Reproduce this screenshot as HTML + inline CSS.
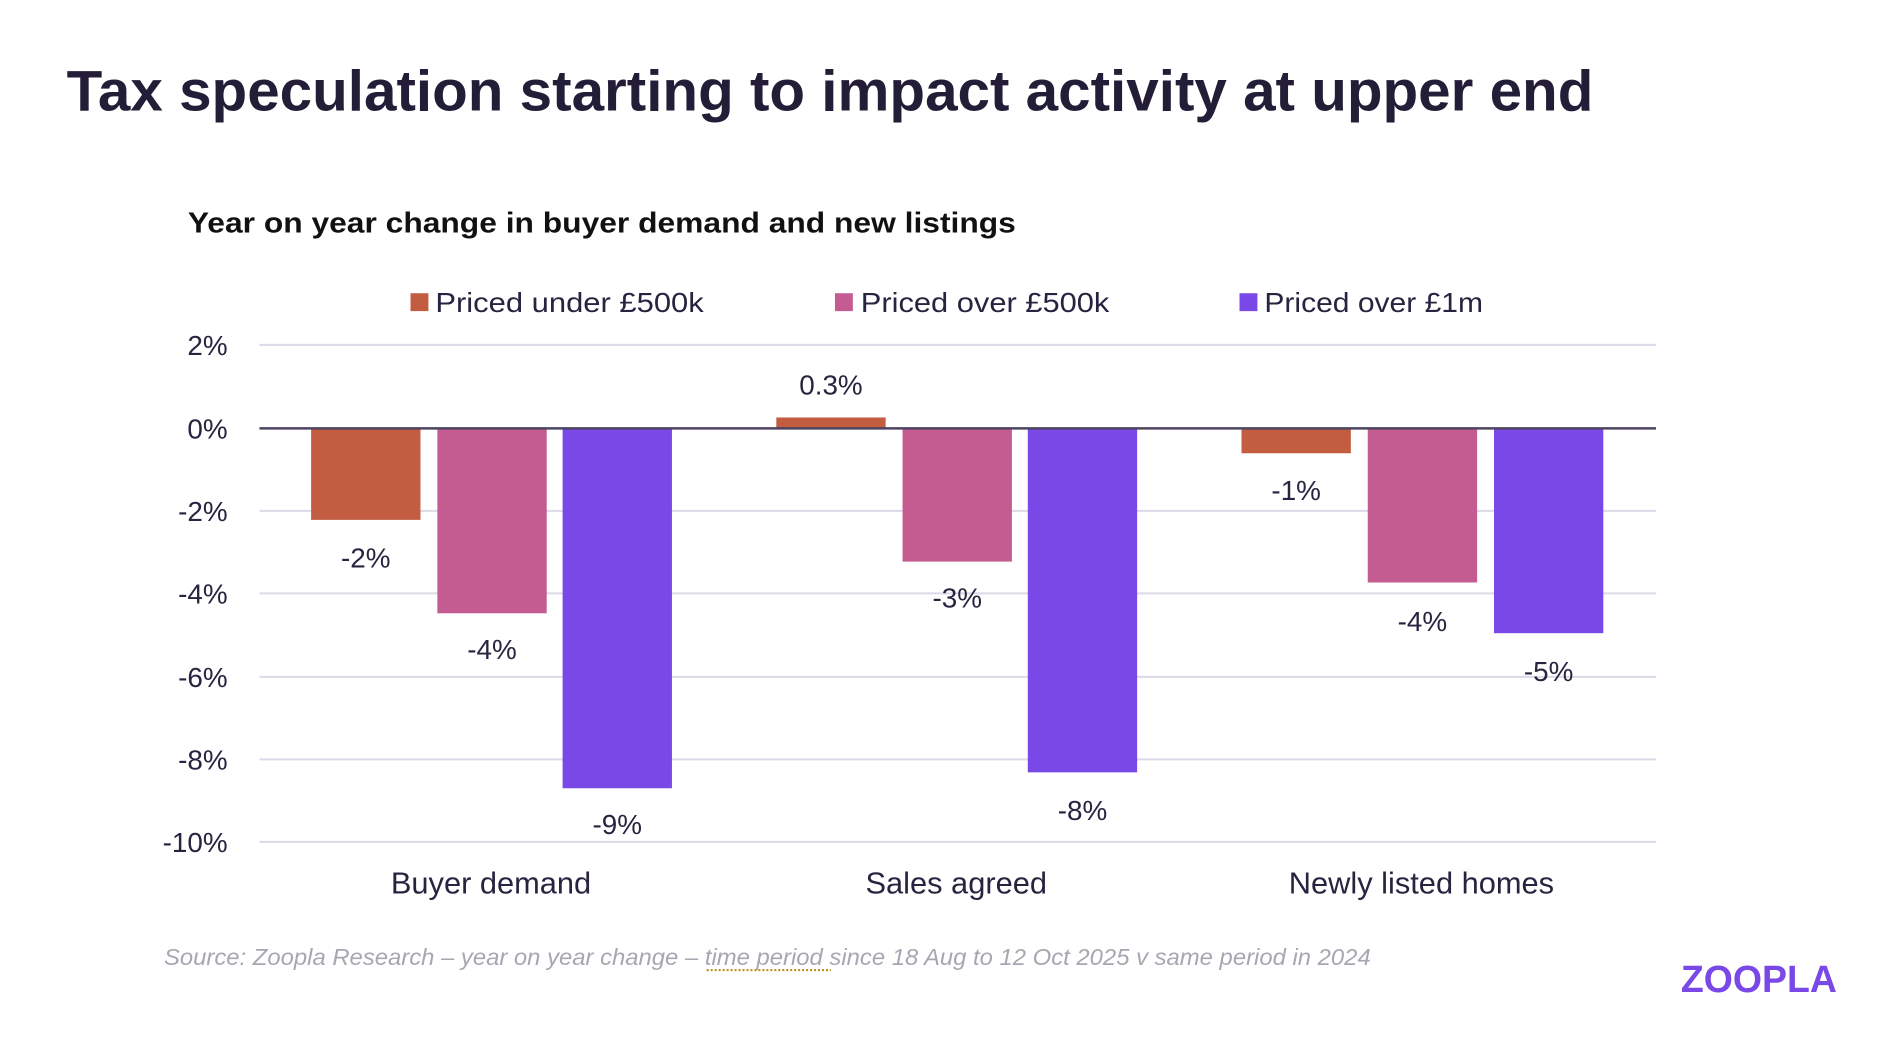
<!DOCTYPE html>
<html><head><meta charset="utf-8"><style>
html,body{margin:0;padding:0;background:#fff;}
svg{display:block;}
</style></head><body>
<svg width="1894" height="1042" viewBox="0 0 1894 1042" xmlns="http://www.w3.org/2000/svg" font-family="Liberation Sans, sans-serif">
<g transform="scale(0.994)">
<text x="67" y="111" font-size="58" font-weight="bold" fill="#231d38" textLength="1536" lengthAdjust="spacingAndGlyphs">Tax speculation starting to impact activity at upper end</text>
<text x="189" y="234" font-size="29" font-weight="bold" fill="#111" textLength="833" lengthAdjust="spacingAndGlyphs">Year on year change in buyer demand and new listings</text>
<g font-size="28" fill="#2a2340">
<rect x="413" y="295" width="18" height="18" fill="#c25d42"/><text x="438" y="314" textLength="270" lengthAdjust="spacingAndGlyphs">Priced under £500k</text>
<rect x="840" y="295" width="18" height="18" fill="#c45c91"/><text x="866" y="314" textLength="250" lengthAdjust="spacingAndGlyphs">Priced over £500k</text>
<rect x="1247" y="295" width="18" height="18" fill="#7a48e6"/><text x="1272" y="314" textLength="220" lengthAdjust="spacingAndGlyphs">Priced over £1m</text>
</g>
<g stroke="#dcd9e8" stroke-width="2">
<line x1="261" x2="1666" y1="347" y2="347"/>
<line x1="261" x2="1666" y1="514" y2="514"/>
<line x1="261" x2="1666" y1="597" y2="597"/>
<line x1="261" x2="1666" y1="681" y2="681"/>
<line x1="261" x2="1666" y1="764" y2="764"/>
<line x1="261" x2="1666" y1="847" y2="847"/>
</g>
<g font-size="28" fill="#2a2340" text-anchor="end">
<text x="229" y="357">2%</text><text x="229" y="441">0%</text><text x="229" y="524">-2%</text>
<text x="229" y="607">-4%</text><text x="229" y="691">-6%</text><text x="229" y="774">-8%</text><text x="229" y="857">-10%</text>
</g>
<rect x="313" y="431" width="110" height="92" fill="#c25d42"/>
<rect x="440" y="431" width="110" height="186" fill="#c45c91"/>
<rect x="566" y="431" width="110" height="362" fill="#7a48e6"/>
<rect x="781" y="420" width="110" height="11" fill="#c25d42"/>
<rect x="908" y="431" width="110" height="134" fill="#c45c91"/>
<rect x="1034" y="431" width="110" height="346" fill="#7a48e6"/>
<rect x="1249" y="431" width="110" height="25" fill="#c25d42"/>
<rect x="1376" y="431" width="110" height="155" fill="#c45c91"/>
<rect x="1503" y="431" width="110" height="206" fill="#7a48e6"/>
<line x1="261" x2="1666" y1="431" y2="431" stroke="#4d4560" stroke-width="2.5"/>
<g font-size="28" fill="#2a2340" text-anchor="middle">
<text x="368" y="571">-2%</text><text x="495" y="663">-4%</text><text x="621" y="839">-9%</text>
<text x="836" y="397">0.3%</text><text x="963" y="611">-3%</text><text x="1089" y="825">-8%</text>
<text x="1304" y="503">-1%</text><text x="1431" y="635">-4%</text><text x="1558" y="685">-5%</text>
</g>
<g font-size="31" fill="#2a2340" text-anchor="middle">
<text x="494" y="899">Buyer demand</text><text x="962" y="899">Sales agreed</text><text x="1430" y="899">Newly listed homes</text>
</g>
<text x="165" y="971" font-size="23" font-style="italic" fill="#a8a6b0" textLength="1214" lengthAdjust="spacingAndGlyphs">Source:  Zoopla Research – year on year change – time period since 18 Aug to 12 Oct 2025 v same period in 2024</text>
<line x1="711" x2="836" y1="976" y2="976" stroke="#b8860b" stroke-width="2" stroke-dasharray="2,2"/>
<text x="1691" y="998" font-size="38" font-weight="bold" fill="#7a48e6" textLength="157" lengthAdjust="spacingAndGlyphs">ZOOPLA</text>
</g>
</svg>
</body></html>
